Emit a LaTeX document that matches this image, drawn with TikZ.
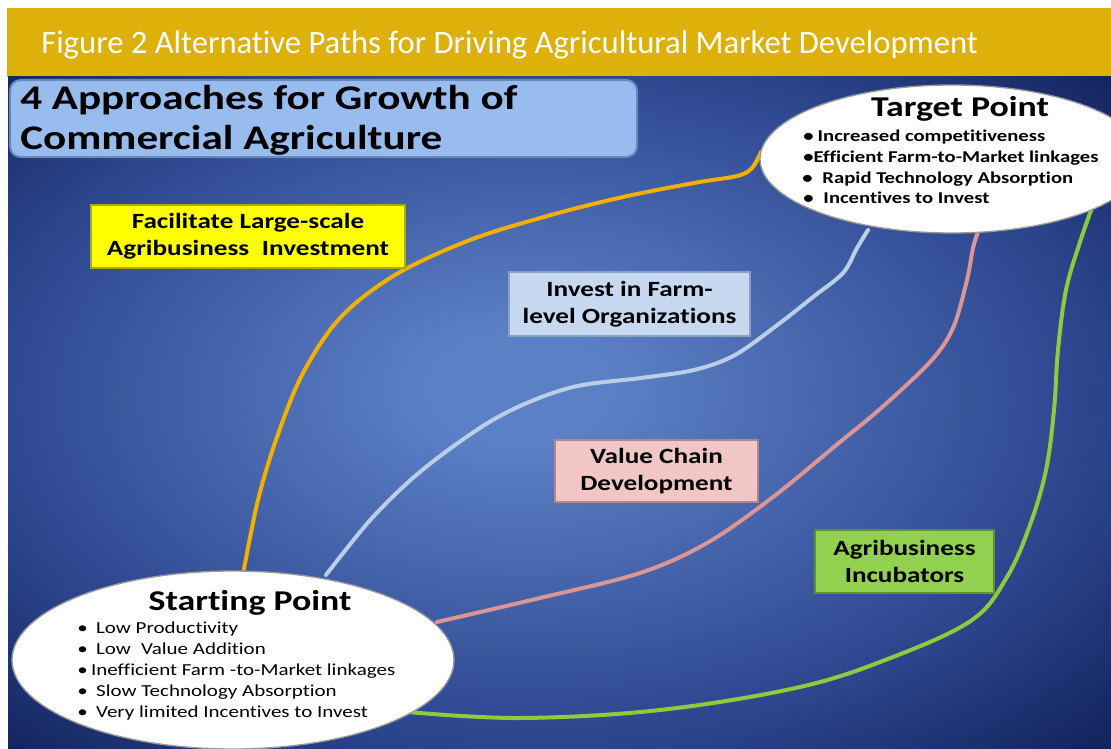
\documentclass[tikz,border=0pt]{standalone}
\usepackage{fontspec}
\setmainfont{Carlito}
\newfontfamily\bandfont[Ligatures={NoCommon,NoContextual}]{Carlito}
\newfontfamily\slidefont[FakeStretch=1.25,Ligatures={NoCommon,NoContextual}]{Carlito}
\usetikzlibrary{shapes.geometric}
\definecolor{bandgold}{RGB}{221,177,10}
\definecolor{bgA}{RGB}{92,128,198}
\definecolor{bgB}{RGB}{44,70,142}
\definecolor{bgC}{RGB}{18,34,92}
\definecolor{titlefill}{RGB}{152,188,238}
\definecolor{titledraw}{RGB}{105,135,185}
\definecolor{yelfill}{RGB}{255,255,0}
\definecolor{yeldraw}{RGB}{170,170,20}
\definecolor{lbfill}{RGB}{198,217,241}
\definecolor{lbdraw}{RGB}{140,160,190}
\definecolor{pkfill}{RGB}{243,198,198}
\definecolor{pkdraw}{RGB}{180,135,135}
\definecolor{gnfill}{RGB}{146,208,80}
\definecolor{gndraw}{RGB}{95,145,45}
\definecolor{orangeline}{RGB}{242,176,0}
\definecolor{blueline}{RGB}{186,206,232}
\definecolor{pinkline}{RGB}{218,150,148}
\definecolor{greenline}{RGB}{140,204,60}
\pgfdeclareradialshading{bgshade}{\pgfpoint{-2bp}{2bp}}{color(0bp)=(bgA); color(4bp)=(bgA); color(25bp)=(bgB); color(36bp)=(bgC); color(50bp)=(bgC)}
\tikzset{
  ellipsebox/.style={ellipse, fill=white, draw=black!40, line width=1pt, inner sep=0pt},
  pathbox/.style={rectangle, line width=1.2pt, align=center, inner sep=0pt,
    font=\slidefont\bfseries\fontsize{16.3pt}{20pt}\selectfont},
  pathline/.style={line width=3pt, line cap=round, line join=round},
  tbullet/.style={anchor=base west, inner sep=0pt, font=\slidefont\bfseries\fontsize{12.4pt}{15pt}\selectfont},
  sbullet/.style={anchor=base west, inner sep=0pt, font=\slidefont\fontsize{12.6pt}{15pt}\selectfont},
  headtext/.style={anchor=base, inner sep=0pt, font=\slidefont\bfseries\fontsize{21.5pt}{25pt}\selectfont},
}
\begin{document}
\begin{tikzpicture}[x=0.75pt,y=-0.75pt]
\useasboundingbox (0,0) rectangle (1111,749);
\fill[white] (0,0) rectangle (1111,749);
% header band
\fill[bandgold] (7,8) rectangle (1111,77);
\node[anchor=base west, inner sep=0pt, text=white, font=\bandfont\fontsize{24.5pt}{28pt}\selectfont] (figtitle) at (41,54) {Figure 2 Alternative Paths for Driving Agricultural Market Development};
% background
\shade[shading=bgshade] (8,77) rectangle (1111,749);
% title box
\draw[fill=titlefill, draw=titledraw, line width=1.5pt, rounded corners=8pt] (10,80) rectangle (637,157);
\node[anchor=base west, inner sep=0pt, font=\slidefont\bfseries\fontsize{25.9pt}{30pt}\selectfont] (title1) at (20,109) {4 Approaches for Growth of};
\node[anchor=base west, inner sep=0pt, font=\slidefont\bfseries\fontsize{25.9pt}{30pt}\selectfont] (title2) at (20,149) {Commercial Agriculture};
% curve end points
\coordinate (o-s) at (244,569);
\coordinate (o-e) at (761,152);
\coordinate (b-s) at (326,575);
\coordinate (b-e) at (868,230);
\coordinate (p-s) at (437,622);
\coordinate (p-e) at (978,232);
\coordinate (g-s) at (408,712);
\coordinate (g-e) at (1093,205);
% paths
\draw[pathline, orangeline] plot[smooth, tension=0.55] coordinates {(o-s) (258,500) (276,440) (302,375) (340,318) (395,275) (470,240) (551,215) (623,197) (694,183) (737,176) (752,168) (o-e)};
\draw[pathline, blueline] plot[smooth, tension=0.55] coordinates {(b-s) (373,517) (426,467) (498,417) (569,388) (641,378) (694,370) (735,355) (780,323) (813,297) (843,273) (857,248) (b-e)};
\draw[pathline, pinkline] plot[smooth, tension=0.55] coordinates {(p-s) (540,598) (640,573) (707,543) (773,497) (840,442) (880,409) (930,362) (953,328) (967,280) (973,248) (p-e)};
\draw[pathline, greenline] plot[smooth, tension=0.6] coordinates {(g-s) (520,718) (660,710) (800,687) (893,657) (972,620) (1007,577) (1030,525) (1046,470) (1054,410) (1058,350) (1066,290) (1080,242) (g-e)};
% ellipses
\node[ellipsebox, minimum width=331.5pt, minimum height=133.5pt] (sp) at (233,660) {};
\node[ellipsebox, minimum width=288pt, minimum height=111pt] (tp) at (952,159) {};
% target text
\node[headtext] (tphead) at (960,117) {Target Point};
\node[tbullet] (tb1) at (803,142) {•\hspace{0.25em}Increased competitiveness};
\node[tbullet] (tb2) at (803,162) {•Efficient Farm-to-Market linkages};
\node[tbullet] (tb3) at (802,183) {•\hspace{0.6em}Rapid Technology Absorption};
\node[tbullet] (tb4) at (803,203) {•\hspace{0.6em}Incentives to Invest};
% starting text
\node[headtext] (sphead) at (250,610) {Starting Point};
\node[sbullet] (sb1) at (77,633) {•\hspace{0.5em}Low Productivity};
\node[sbullet] (sb2) at (77,654) {•\hspace{0.5em}Low\hspace{0.6em}Value Addition};
\node[sbullet] (sb3) at (77,675) {•\hspace{0.2em}Inefficient Farm -to-Market linkages};
\node[sbullet] (sb4) at (77,696) {•\hspace{0.5em}Slow Technology Absorption};
\node[sbullet] (sb5) at (77,717) {•\hspace{0.5em}Very limited Incentives to Invest};
% path boxes
\node[pathbox, fill=yelfill, draw=yeldraw, minimum width=235.5pt, minimum height=47.25pt] (large) at (248,236.5) {Facilitate Large-scale\\Agribusiness\hspace{0.3em} Investment};
\node[pathbox, fill=lbfill, draw=lbdraw, minimum width=180.75pt, minimum height=48pt] (farm) at (629.5,304) {Invest in Farm-\\level Organizations};
\node[pathbox, fill=pkfill, draw=pkdraw, minimum width=152.25pt, minimum height=46.5pt] (chain) at (656.5,471) {Value Chain\\Development};
\node[pathbox, fill=gnfill, draw=gndraw, minimum width=134.25pt, minimum height=47.25pt] (incub) at (904.5,561.5) {Agribusiness\\Incubators};
\end{tikzpicture}
\end{document}
